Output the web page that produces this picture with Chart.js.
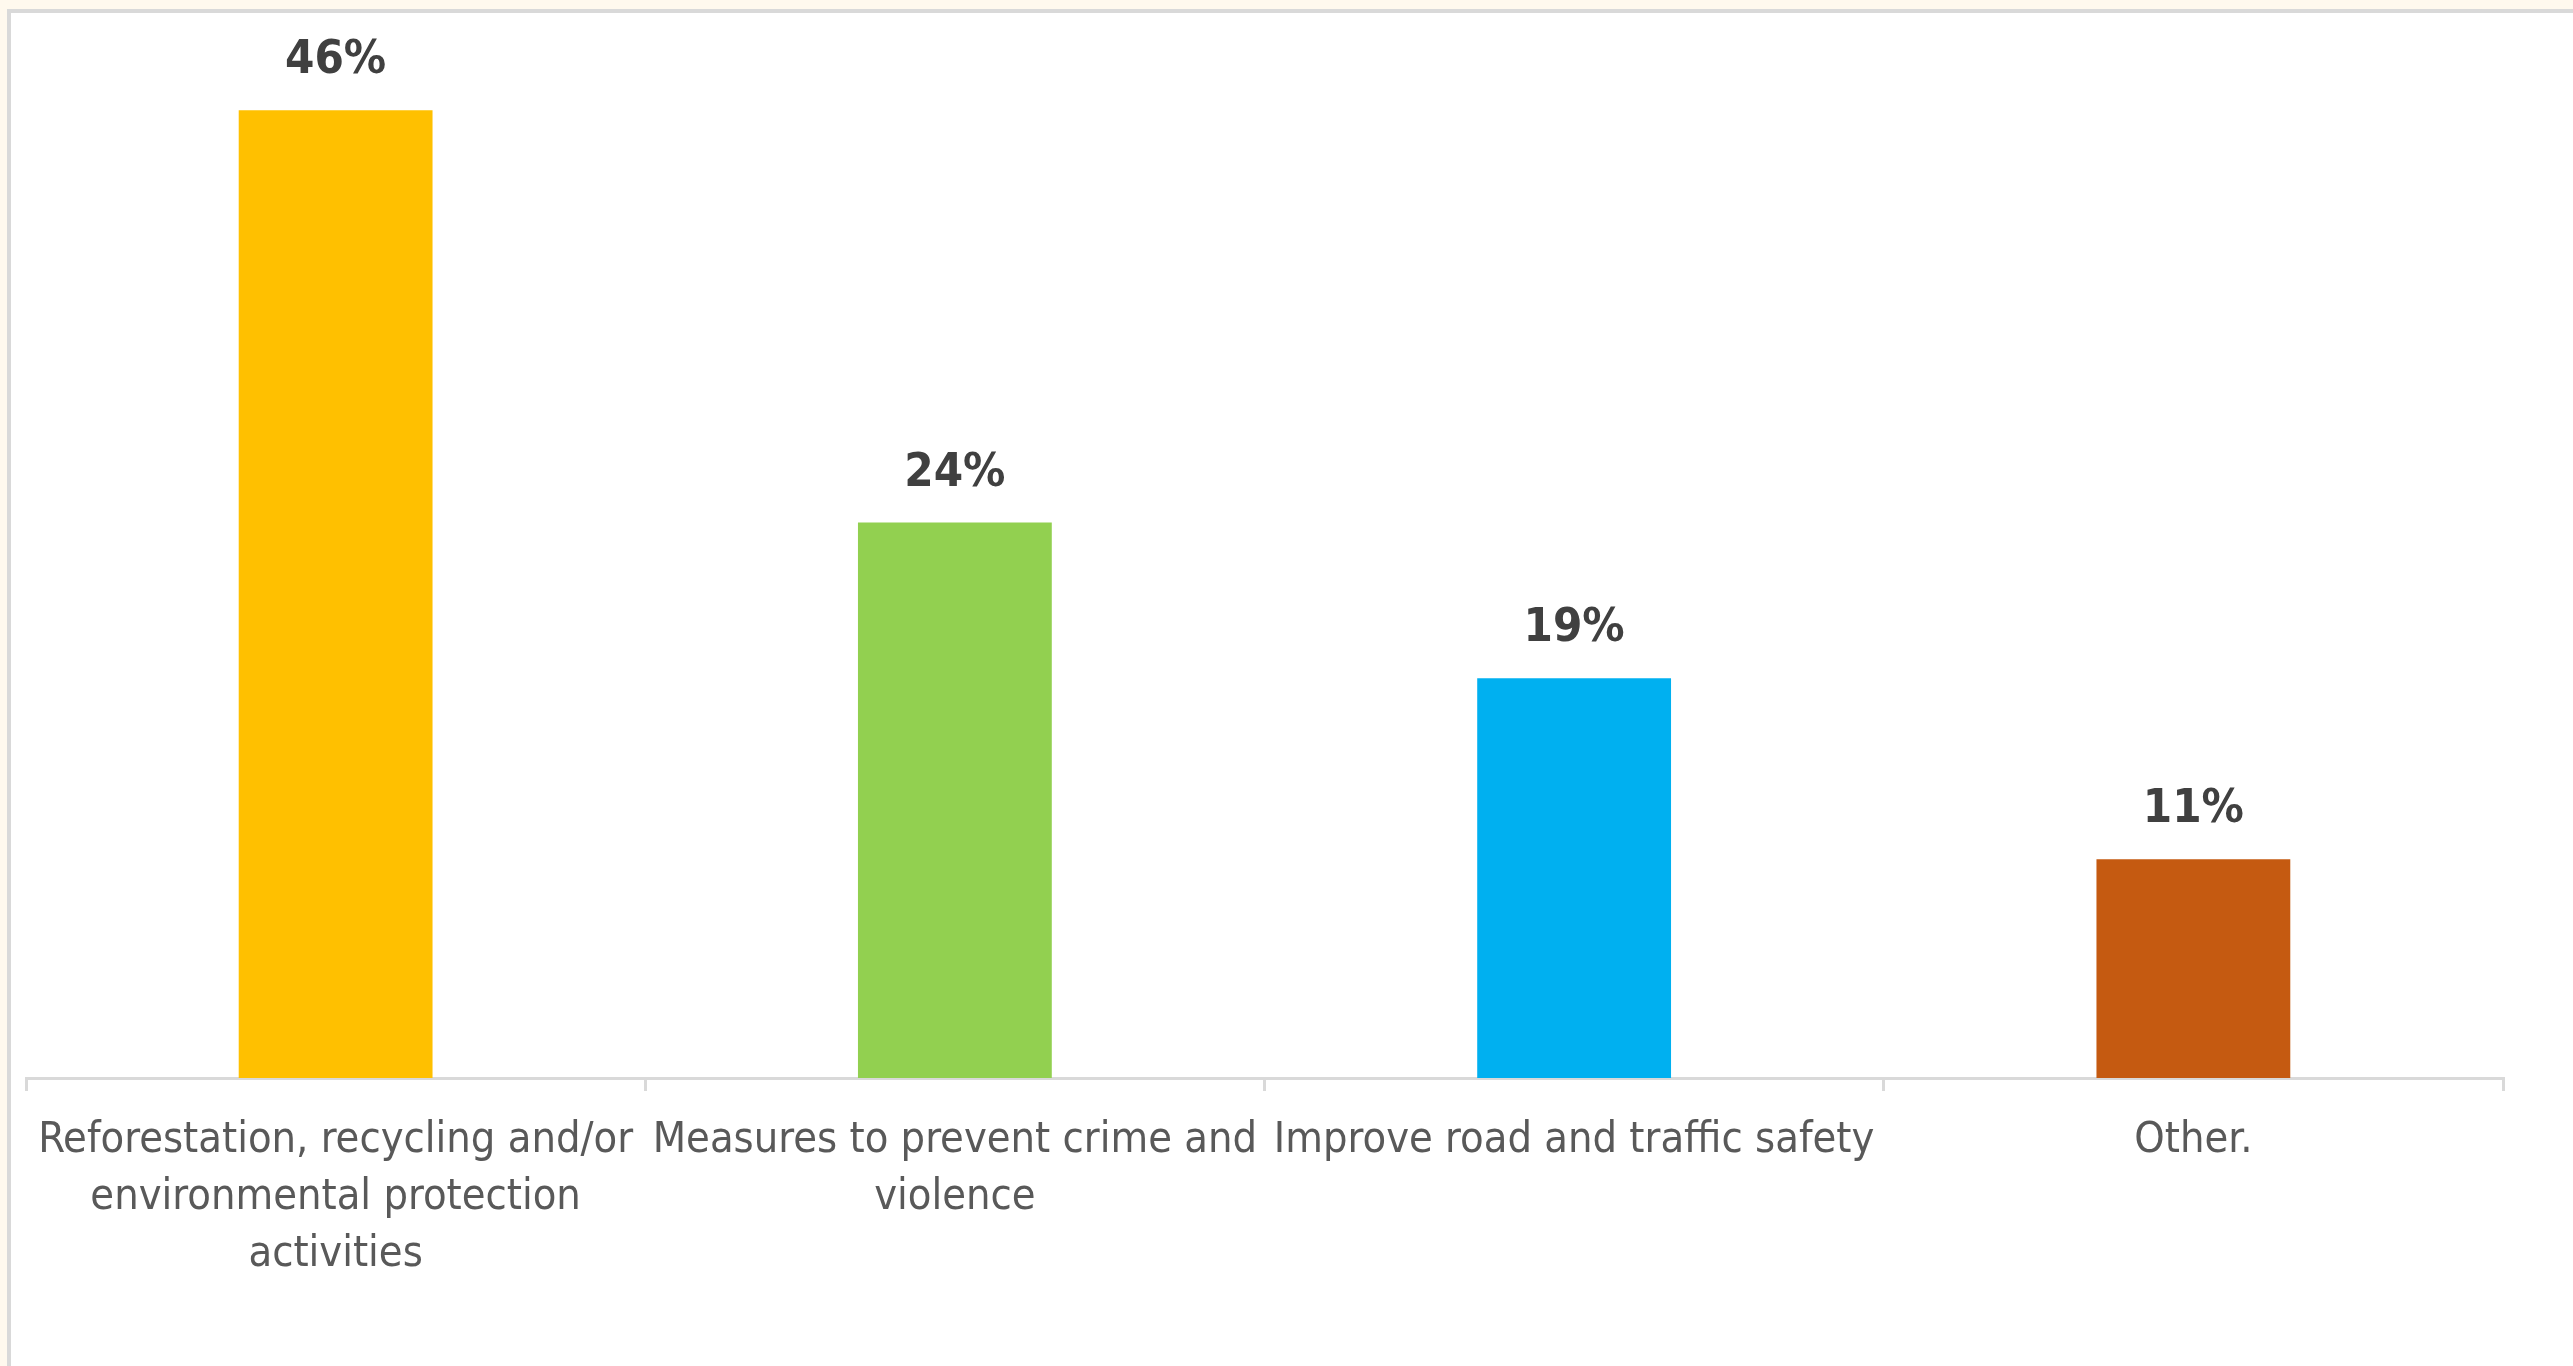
<!DOCTYPE html>
<html>
<head>
<meta charset="utf-8">
<script src="https://cdn.jsdelivr.net/npm/chart.js@4.4.1/dist/chart.umd.min.js"></script>
<style>
  html, body { margin: 0; padding: 0; background: #fff9ee; overflow: hidden; }
  #caja {
    position: absolute; left: 7px; top: 9px; right: 0; bottom: 0;
    background: #fff; border-left: 4px solid #d9d9d9; border-top: 4px solid #d9d9d9;
  }
  #grafico { position: absolute; left: 0; top: 0; }
</style>
</head>
<body>
<div id="caja"></div>
<canvas id="grafico" width="2573" height="1366"></canvas>
<script>
// categorias (ya partidas en lineas)
const categorias = [
  ["Reforestation, recycling and/or", "environmental protection", "activities"],
  ["Measures to prevent crime and", "violence"],
  ["Improve road and traffic safety"],
  ["Other."]
];
// altura de las barras
const valores = [46, 26.4, 19, 10.4];
// etiquetas que se muestran encima
const etiquetas = ["46%", "24%", "19%", "11%"];
const colores = ["#FFC000", "#92D050", "#00B0F0", "#C55A11"];

const fuenteTxt = '"Liberation Sans Narrow", "DejaVu Sans Condensed", "Liberation Sans", sans-serif';

// dibujar las etiquetas encima de cada barra
const etiquetasPlugin = {
  id: "etiquetas",
  afterDatasetsDraw(chart) {
    const ctx = chart.ctx;
    const meta = chart.getDatasetMeta(0);
    ctx.save();
    ctx.font = "bold 47px " + fuenteTxt;
    ctx.fillStyle = "#404040";
    ctx.textAlign = "center";
    ctx.textBaseline = "middle";
    meta.data.forEach((bar, i) => {
      ctx.fillText(etiquetas[i], bar.x, bar.y - 49);
    });
    ctx.restore();
  }
};

const grafico = new Chart(document.getElementById("grafico"), {
  type: "bar",
  data: {
    labels: categorias,
    datasets: [{
      data: valores,
      backgroundColor: colores,
      borderWidth: 0,
      categoryPercentage: 1,
      barPercentage: 0.313
    }]
  },
  options: {
    responsive: false,
    animation: false,
    layout: { padding: { left: 26, right: 70, top: 26, bottom: 0 } },
    plugins: { legend: { display: false }, tooltip: { enabled: false } },
    scales: {
      x: {
        grid: {
          offset: true,
          drawOnChartArea: false,
          drawTicks: true,
          tickLength: 13,
          color: "#d9d9d9",
          lineWidth: 3
        },
        border: { color: "#d9d9d9", width: 3 },
        ticks: {
          color: "#595959",
          font: { family: fuenteTxt, size: 43, lineHeight: 1.33 },
          padding: 21,
          maxRotation: 0,
          autoSkip: false
        },
        afterFit: (s) => {
          s.height = 1366 - 1078;
          s.paddingLeft = 0;
          s.paddingRight = 0;
        }
      },
      y: {
        display: false,
        min: 0,
        max: 50
      }
    }
  },
  plugins: [etiquetasPlugin]
});
</script>
</body>
</html>
